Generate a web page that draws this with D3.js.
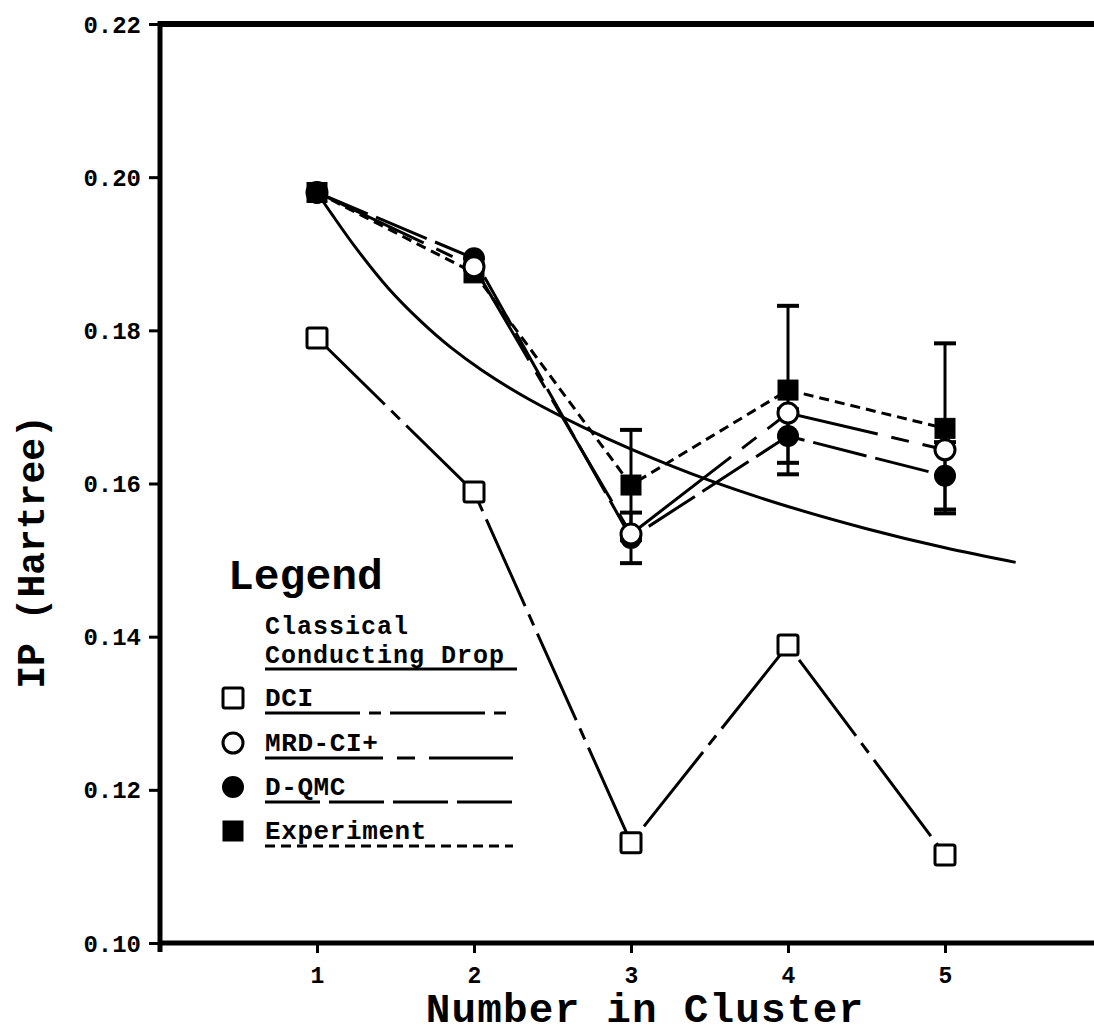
<!DOCTYPE html>
<html>
<head>
<meta charset="utf-8">
<script src="https://cdn.jsdelivr.net/npm/d3@7"></script>
<style>
  html, body { margin: 0; padding: 0; background: #fff; overflow: hidden; }
  svg { display: block; }
  text { font-family: "Liberation Mono", "DejaVu Sans Mono", monospace; font-weight: bold; fill: #000; }
</style>
</head>
<body>
<script>
// Ionization potential vs. cluster size
const clusterSizes = [1, 2, 3, 4, 5];
const dci        = [0.1790, 0.1589, 0.1131, 0.1389, 0.1115];
const mrdci      = [0.1980, 0.1883, 0.1534, 0.1692, 0.1644];
const dqmc       = [0.1980, 0.1894, 0.1529, 0.1662, 0.1610];
const dqmcErr    = [0, 0, 0.0033, 0.0035, 0.0044];
const experiment = [0.1980, 0.1875, 0.1598, 0.1722, 0.1672];
const experimentErr = [0, 0, 0.0072, 0.0110, 0.0111];

// Classical conducting-drop model curve, sampled points (n, IP)
const dropN  = [1.00, 1.10, 1.25, 1.45, 1.65, 1.85, 2.05, 2.35, 2.70, 3.00, 3.50, 4.00, 4.50, 5.00, 5.45];
const dropIP = [0.1980, 0.1950, 0.1907, 0.1856, 0.1814, 0.1778, 0.1748, 0.1710, 0.1673, 0.1645, 0.1604, 0.1570, 0.1541, 0.1516, 0.1497];

const yTicks = [0.10, 0.12, 0.14, 0.16, 0.18, 0.20, 0.22];
const xTicks = [1, 2, 3, 4, 5];

const legendItems = ["DCI", "MRD-CI+", "D-QMC", "Experiment"];

const W = 1094, H = 1035;
const svg = d3.select("body").append("svg").attr("width", W).attr("height", H);

const x = d3.scaleLinear().domain([0, 6]).range([160, 1102]);
const y = d3.scaleLinear().domain([0.10, 0.22]).range([943, 24]);

// Series definitions: line style + marker
const series = [
  { name: "DCI",        values: dci,        dash: "95,9,12,9",    marker: "square", filled: false },
  { name: "MRD-CI+",    values: mrdci,      dash: "118,14,18,14", marker: "circle", filled: false },
  { name: "D-QMC",      values: dqmc,       dash: "55,9",         marker: "circle", filled: true },
  { name: "Experiment", values: experiment, dash: "10,6",         marker: "square", filled: true }
];

// Frame: top border
svg.append("line")
  .attr("x1", x(0) - 2).attr("x2", x(6))
  .attr("y1", y(0.22)).attr("y2", y(0.22))
  .attr("stroke", "#000").attr("stroke-width", 6);

// Y axis
const yAxis = svg.append("g")
  .attr("transform", `translate(${x(0)},0)`)
  .call(d3.axisLeft(y).tickValues(yTicks).tickFormat(d3.format(".2f")).tickSize(11).tickSizeOuter(0).tickPadding(8));
yAxis.select(".domain").attr("stroke-width", 5).attr("d", `M0,${y(0.22) - 3}V${y(0.10) + 9}`);
yAxis.selectAll(".tick line").attr("stroke-width", 3);
yAxis.selectAll(".tick text")
  .attr("font-size", 24).attr("dy", null).attr("y", 8)
  .style("font-family", "'Liberation Mono', monospace").style("font-weight", "bold");

// X axis
const xAxis = svg.append("g")
  .attr("transform", `translate(0,${y(0.10)})`)
  .call(d3.axisBottom(x).tickValues(xTicks).tickFormat(d3.format("d")).tickSize(10).tickSizeOuter(0).tickPadding(12));
xAxis.select(".domain").attr("stroke-width", 5).attr("d", `M${x(0) - 2},0H${x(6)}`);
xAxis.selectAll(".tick line").attr("stroke-width", 3);
xAxis.selectAll(".tick text")
  .attr("font-size", 23).attr("dy", null).attr("y", 40)
  .style("font-family", "'Liberation Mono', monospace").style("font-weight", "bold");

// Axis titles
svg.append("text")
  .attr("x", 645).attr("y", 1022)
  .attr("text-anchor", "middle").attr("font-size", 41)
  .attr("letter-spacing", 1.2)
  .text("Number in Cluster");

svg.append("text")
  .attr("transform", `translate(44,${552}) rotate(-90)`)
  .attr("text-anchor", "middle").attr("font-size", 38)
  .text("IP (Hartree)");

// Classical conducting drop curve
const dropLine = d3.line().x((d, i) => x(dropN[i])).y(d => y(d)).curve(d3.curveCatmullRom.alpha(0.5));
svg.append("path")
  .attr("d", dropLine(dropIP))
  .attr("fill", "none").attr("stroke", "#000").attr("stroke-width", 3);

// Series lines
const seriesLine = d3.line().x((d, i) => x(clusterSizes[i])).y(d => y(d));
series.forEach(s => {
  svg.append("path")
    .attr("d", seriesLine(s.values))
    .attr("fill", "none").attr("stroke", "#000").attr("stroke-width", 3)
    .attr("stroke-dasharray", s.dash);
});

// Error bars
function errorBars(values, errs) {
  const g = svg.append("g").attr("stroke", "#000").attr("stroke-width", 3);
  values.forEach((v, i) => {
    if (!errs[i]) return;
    const cx = x(clusterSizes[i]);
    g.append("line").attr("x1", cx).attr("x2", cx).attr("y1", y(v - errs[i])).attr("y2", y(v + errs[i]));
    [v - errs[i], v + errs[i]].forEach(e => {
      g.append("line").attr("x1", cx - 11).attr("x2", cx + 11).attr("y1", y(e)).attr("y2", y(e)).attr("stroke-width", 4);
    });
  });
}
errorBars(experiment, experimentErr);
errorBars(dqmc, dqmcErr);

// Marker drawing
function drawMarker(g, type, filled, cx, cy) {
  if (type === "square") {
    const s = 20;
    g.append("rect")
      .attr("x", cx - s / 2).attr("y", cy - s / 2).attr("width", s).attr("height", s)
      .attr("rx", filled ? 0 : 2)
      .attr("fill", filled ? "#000" : "#fff").attr("stroke", "#000").attr("stroke-width", filled ? 1 : 3);
  } else {
    g.append("circle")
      .attr("cx", cx).attr("cy", cy).attr("r", filled ? 11 : 10)
      .attr("fill", filled ? "#000" : "#fff").attr("stroke", "#000").attr("stroke-width", filled ? 0 : 3);
  }
}

// Points that coincide with the measured value sit beneath the experiment marker
const markerLayer = svg.append("g");
const coincident = (s, i) => s.name !== "Experiment" && Math.abs(s.values[i] - experiment[i]) < 0.0005;
const order = [series[2], series[0], series[3], series[1]];
order.forEach(s => s.values.forEach((v, i) => {
  if (coincident(s, i)) drawMarker(markerLayer, s.marker, s.filled, x(clusterSizes[i]), y(v));
}));
order.forEach(s => s.values.forEach((v, i) => {
  if (!coincident(s, i)) drawMarker(markerLayer, s.marker, s.filled, x(clusterSizes[i]), y(v));
}));

// Legend
const lg = svg.append("g");
lg.append("text").attr("x", 228).attr("y", 589).attr("font-size", 43).text("Legend");
lg.append("text").attr("x", 265).attr("y", 634).attr("font-size", 25).attr("letter-spacing", 1).text("Classical");
lg.append("text").attr("x", 265).attr("y", 663).attr("font-size", 25).attr("letter-spacing", 1).text("Conducting Drop");
lg.append("line").attr("x1", 265).attr("x2", 517).attr("y1", 669).attr("y2", 669)
  .attr("stroke", "#000").attr("stroke-width", 3);

const rowY = [698, 743, 787, 831];
legendItems.forEach((name, k) => {
  const s = series.find(d => d.name === name);
  const cy = rowY[k];
  drawMarker(lg, s.marker, s.filled, 233, cy);
  lg.append("text").attr("x", 265).attr("y", cy + 8).attr("font-size", 26).attr("letter-spacing", 0.6).text(name);
  lg.append("line").attr("x1", 265).attr("x2", 513).attr("y1", cy + 15).attr("y2", cy + 15)
    .attr("stroke", "#000").attr("stroke-width", 3).attr("stroke-dasharray", s.dash);
});
</script>
</body>
</html>
